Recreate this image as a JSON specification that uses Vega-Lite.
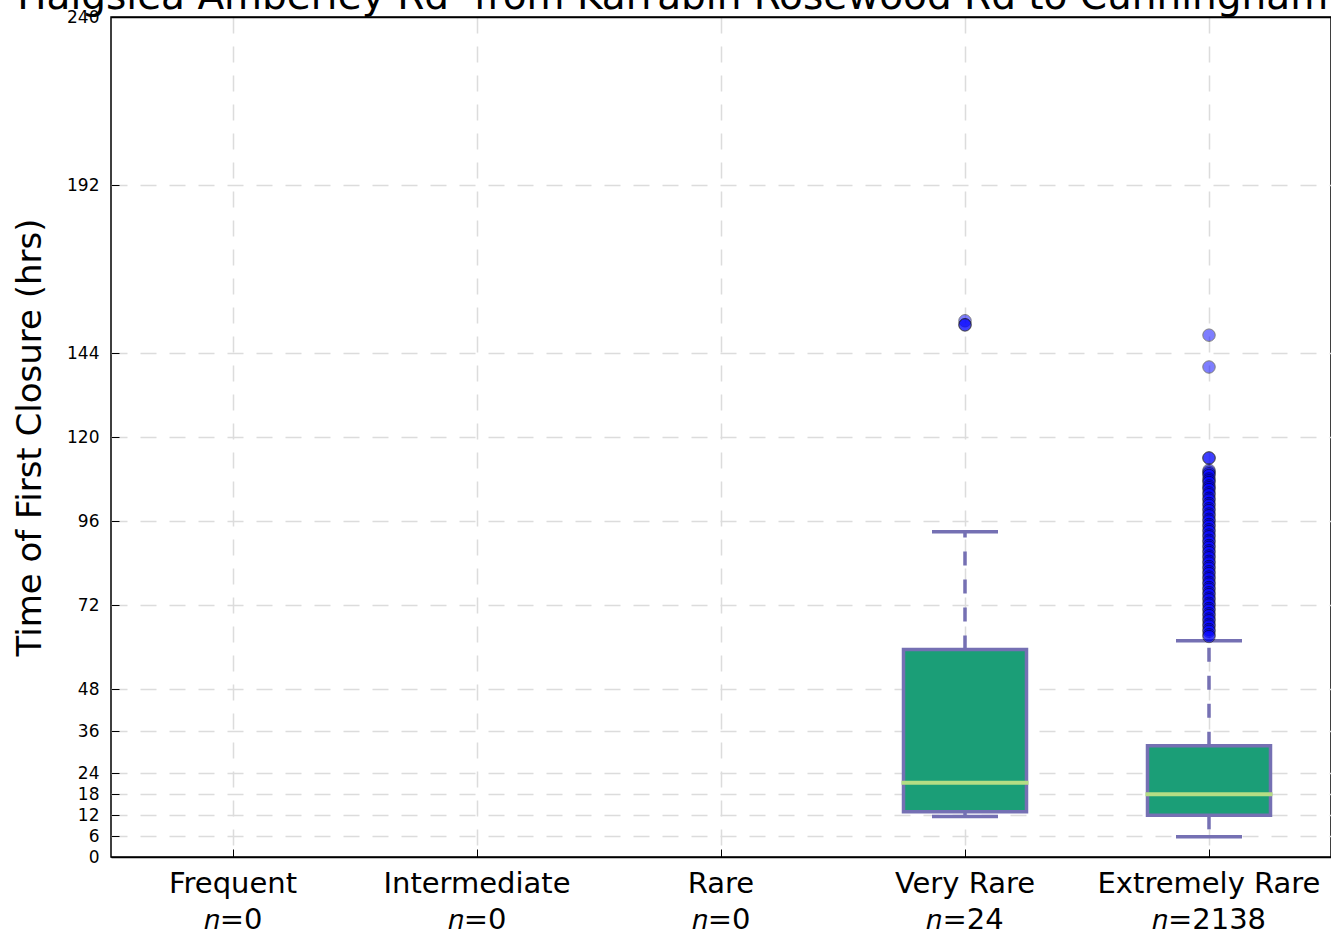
{
  "$schema": "https://vega.github.io/schema/vega-lite/v6.json",
  "width": 1220,
  "height": 840,
  "autosize": {"type": "none"},
  "padding": {"left": 111, "top": 17, "right": 0, "bottom": 78},
  "background": "white",
  "title": {
    "text": "Haigslea Amberley Rd\u00a0 from Karrabin Rosewood Rd to Cunningham Hwy",
    "font": "DejaVu Sans",
    "fontSize": 39,
    "fontWeight": "normal",
    "color": "black",
    "anchor": "middle",
    "frame": "group",
    "baseline": "alphabetic",
    "offset": -40
  },
  "config": {
    "view": {"stroke": "black", "strokeWidth": 1.5},
    "axis": {
      "domain": false,
      "grid": true,
      "gridColor": {"condition": {"test": "datum.value == 0 || datum.value == 240", "value": "black"}, "value": "#dcdcdc"},
      "gridDash": {"condition": {"test": "datum.value == 0 || datum.value == 240", "value": []}, "value": [16, 13]},
      "gridWidth": 1.5,
      "tickColor": "black",
      "tickWidth": 1,
      "tickSize": -8,
      "labelColor": "black",
      "labelFont": "DejaVu Sans",
      "labelLimit": 0,
      "titleFont": "DejaVu Sans",
      "titleColor": "black",
      "titleFontWeight": "normal"
    },
    "axisX": {"labelFontSize": 29, "labelAngle": 0, "labelPadding": 20, "labelLineHeight": 36, "title": null},
    "axisY": {"labelFontSize": 17, "labelPadding": 20, "titleFontSize": 34, "titlePadding": 19}
  },
  "datasets": {
    "boxes": [
      {"cat": "Very Rare", "n": 24, "lo": 11.6, "q1": 12.9, "med": 21.2, "q3": 59.3, "hi": 92.9},
      {"cat": "Extremely Rare", "n": 2138, "lo": 5.8, "q1": 11.9, "med": 17.9, "q3": 31.8, "hi": 61.8}
    ],
    "outliers": [
      {"cat": "Very Rare", "value": 153.2},
      {"cat": "Very Rare", "value": 152.1},
      {"cat": "Very Rare", "value": 152.0},
      {"cat": "Extremely Rare", "value": 149.1},
      {"cat": "Extremely Rare", "value": 140.0},
      {"cat": "Extremely Rare", "value": 114.0},
      {"cat": "Extremely Rare", "value": 114.0},
      {"cat": "Extremely Rare", "value": 110.5},
      {"cat": "Extremely Rare", "value": 110.0},
      {"cat": "Extremely Rare", "value": 109.5},
      {"cat": "Extremely Rare", "value": 109.0},
      {"cat": "Extremely Rare", "value": 108.0},
      {"cat": "Extremely Rare", "value": 107.5},
      {"cat": "Extremely Rare", "value": 107.0},
      {"cat": "Extremely Rare", "value": 106.0},
      {"cat": "Extremely Rare", "value": 105.5},
      {"cat": "Extremely Rare", "value": 105.0},
      {"cat": "Extremely Rare", "value": 104.0},
      {"cat": "Extremely Rare", "value": 103.5},
      {"cat": "Extremely Rare", "value": 102.5},
      {"cat": "Extremely Rare", "value": 102.0},
      {"cat": "Extremely Rare", "value": 101.0},
      {"cat": "Extremely Rare", "value": 100.5},
      {"cat": "Extremely Rare", "value": 99.5},
      {"cat": "Extremely Rare", "value": 99.0},
      {"cat": "Extremely Rare", "value": 98.0},
      {"cat": "Extremely Rare", "value": 97.5},
      {"cat": "Extremely Rare", "value": 96.5},
      {"cat": "Extremely Rare", "value": 96.0},
      {"cat": "Extremely Rare", "value": 95.0},
      {"cat": "Extremely Rare", "value": 94.5},
      {"cat": "Extremely Rare", "value": 93.5},
      {"cat": "Extremely Rare", "value": 93.0},
      {"cat": "Extremely Rare", "value": 92.0},
      {"cat": "Extremely Rare", "value": 91.5},
      {"cat": "Extremely Rare", "value": 90.5},
      {"cat": "Extremely Rare", "value": 90.0},
      {"cat": "Extremely Rare", "value": 89.0},
      {"cat": "Extremely Rare", "value": 88.5},
      {"cat": "Extremely Rare", "value": 87.5},
      {"cat": "Extremely Rare", "value": 87.0},
      {"cat": "Extremely Rare", "value": 86.0},
      {"cat": "Extremely Rare", "value": 85.5},
      {"cat": "Extremely Rare", "value": 84.5},
      {"cat": "Extremely Rare", "value": 84.0},
      {"cat": "Extremely Rare", "value": 83.0},
      {"cat": "Extremely Rare", "value": 82.5},
      {"cat": "Extremely Rare", "value": 81.5},
      {"cat": "Extremely Rare", "value": 81.0},
      {"cat": "Extremely Rare", "value": 80.0},
      {"cat": "Extremely Rare", "value": 79.5},
      {"cat": "Extremely Rare", "value": 78.5},
      {"cat": "Extremely Rare", "value": 78.0},
      {"cat": "Extremely Rare", "value": 77.0},
      {"cat": "Extremely Rare", "value": 76.5},
      {"cat": "Extremely Rare", "value": 75.5},
      {"cat": "Extremely Rare", "value": 75.0},
      {"cat": "Extremely Rare", "value": 74.0},
      {"cat": "Extremely Rare", "value": 73.5},
      {"cat": "Extremely Rare", "value": 72.5},
      {"cat": "Extremely Rare", "value": 72.0},
      {"cat": "Extremely Rare", "value": 71.0},
      {"cat": "Extremely Rare", "value": 70.5},
      {"cat": "Extremely Rare", "value": 69.5},
      {"cat": "Extremely Rare", "value": 69.0},
      {"cat": "Extremely Rare", "value": 68.0},
      {"cat": "Extremely Rare", "value": 67.5},
      {"cat": "Extremely Rare", "value": 66.5},
      {"cat": "Extremely Rare", "value": 66.0},
      {"cat": "Extremely Rare", "value": 65.0},
      {"cat": "Extremely Rare", "value": 64.5},
      {"cat": "Extremely Rare", "value": 63.5},
      {"cat": "Extremely Rare", "value": 63.0}
    ]
  },
  "encoding": {
    "x": {
      "field": "cat",
      "type": "nominal",
      "scale": {"domain": ["Frequent", "Intermediate", "Rare", "Very Rare", "Extremely Rare"], "paddingInner": 0, "paddingOuter": 0},
      "axis": {
        "labelExpr": "[datum.value, '𝑛=' + (datum.value == 'Very Rare' ? '24' : datum.value == 'Extremely Rare' ? '2138' : '0')]"
      },
      "title": null
    }
  },
  "layer": [
    {
      "data": {"name": "boxes"},
      "mark": {"type": "rule", "color": "#7570b3", "strokeWidth": 3.5, "strokeDash": [14, 14]},
      "encoding": {
        "y": {
          "field": "q3", "type": "quantitative",
          "scale": {"domain": [0, 240], "nice": false},
          "title": "Time of First Closure (hrs)",
          "axis": {"values": [0, 6, 12, 18, 24, 36, 48, 72, 96, 120, 144, 192, 240]}
        },
        "y2": {"field": "hi"}
      }
    },
    {
      "data": {"name": "boxes"},
      "mark": {"type": "rule", "color": "#7570b3", "strokeWidth": 3.5, "strokeDash": [14, 14]},
      "encoding": {
        "y": {"field": "q1", "type": "quantitative", "title": "Time of First Closure (hrs)"},
        "y2": {"field": "lo"}
      }
    },
    {
      "data": {"name": "boxes"},
      "mark": {"type": "bar", "size": 123, "fill": "#1b9e77", "stroke": "#7570b3", "strokeWidth": 3.5},
      "encoding": {
        "y": {"field": "q1", "type": "quantitative", "title": "Time of First Closure (hrs)"},
        "y2": {"field": "q3"}
      }
    },
    {
      "data": {"name": "boxes"},
      "mark": {"type": "tick", "size": 127, "thickness": 4, "color": "#b5dd84", "opacity": 1},
      "encoding": {
        "y": {"field": "med", "type": "quantitative", "title": "Time of First Closure (hrs)"}
      }
    },
    {
      "data": {"name": "boxes"},
      "mark": {"type": "tick", "size": 66, "thickness": 3.5, "color": "#7570b3", "opacity": 1},
      "encoding": {
        "y": {"field": "hi", "type": "quantitative", "title": "Time of First Closure (hrs)"}
      }
    },
    {
      "data": {"name": "boxes"},
      "mark": {"type": "tick", "size": 66, "thickness": 3.5, "color": "#7570b3", "opacity": 1},
      "encoding": {
        "y": {"field": "lo", "type": "quantitative", "title": "Time of First Closure (hrs)"}
      }
    },
    {
      "data": {"name": "outliers"},
      "mark": {"type": "point", "shape": "circle", "filled": true, "size": 154, "fill": "#0000ff", "opacity": 0.5, "stroke": "black", "strokeWidth": 1},
      "encoding": {
        "y": {"field": "value", "type": "quantitative", "title": "Time of First Closure (hrs)"}
      }
    }
  ]
}
